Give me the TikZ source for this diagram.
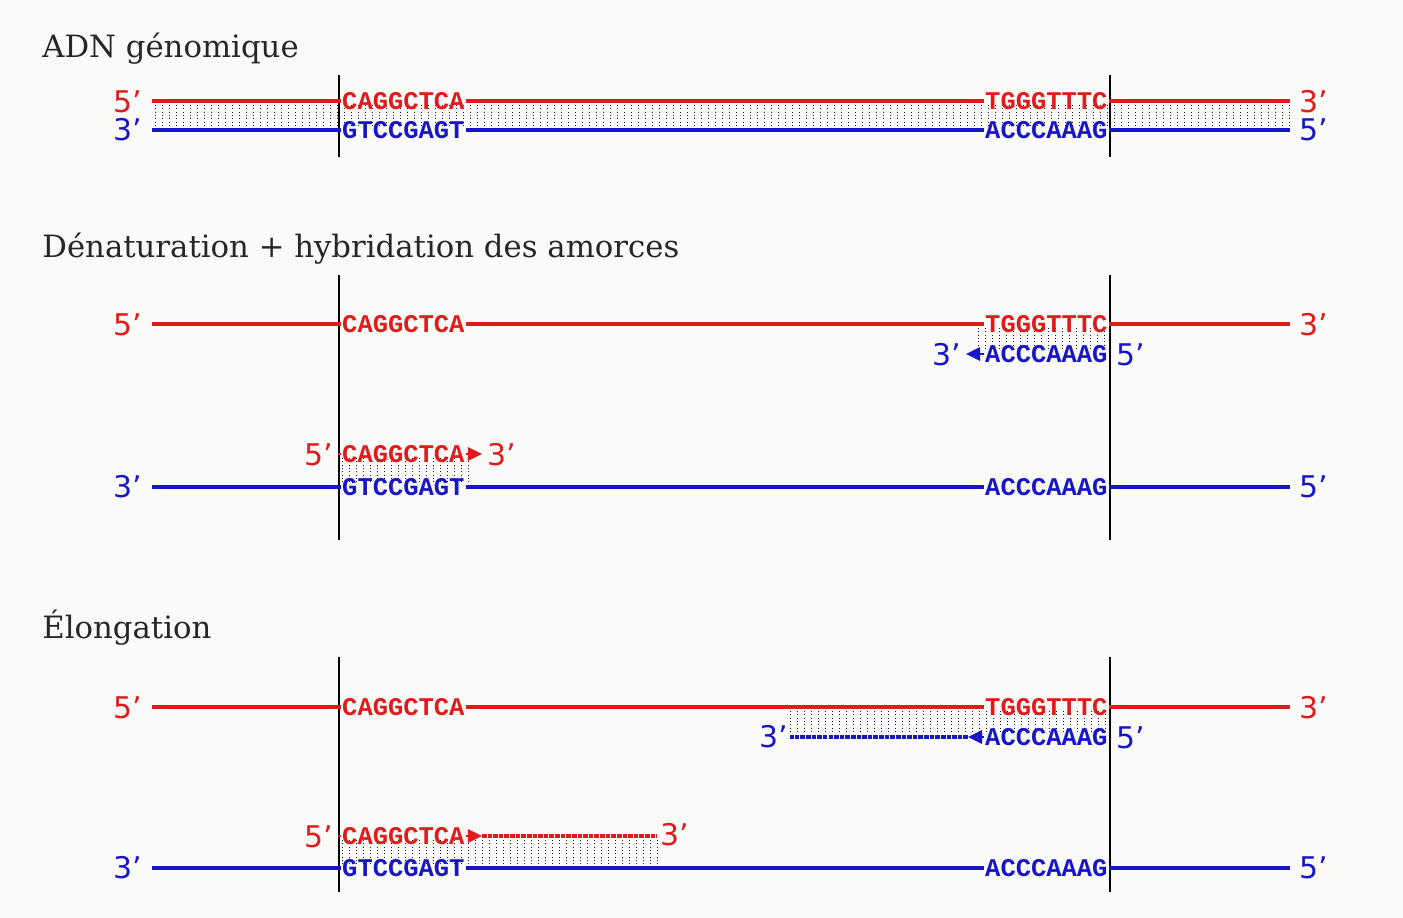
\documentclass[tikz,border=0pt]{standalone}
\usepackage{fontspec}
\usetikzlibrary{arrows.meta}
\newfontfamily\seqfont{Liberation Mono}
\newfontfamily\endfont{DejaVu Sans}
\newfontfamily\headfont{DejaVu Serif}
\definecolor{strandred}{RGB}{225,27,27}
\definecolor{strandblue}{RGB}{22,22,200}
\definecolor{paper}{RGB}{250,250,248}
\def\hatch(#1:#2)(#3:#4){\pgfmathtruncatemacro\hn{(#2-#1)/7}\foreach \i in {0,...,\hn} \draw[hatchline] ({#1+7*\i},#3) -- ({#1+7*\i},#4);}
\tikzset{
  title/.style={anchor=base west, inner sep=0, text=black!85, font=\headfont\fontsize{17.5}{20}\selectfont},
  seqR/.style={anchor=west, inner sep=0.5pt, text=strandred, font=\seqfont\bfseries\fontsize{14.5}{15}\selectfont},
  seqB/.style={seqR, text=strandblue},
  endR/.style={inner sep=0, text=strandred, font=\endfont\fontsize{17}{18}\selectfont},
  endB/.style={endR, text=strandblue},
  strandR/.style={draw=strandred, line width=2.2pt},
  strandB/.style={draw=strandblue, line width=2.2pt},
  guide/.style={draw=black, line width=0.7pt},
  hatchline/.style={draw=black!90, line width=0.5pt, dash pattern=on 0.5pt off 1.4pt},
  arrR/.style={strandR, line width=1.4pt, -{Triangle[length=8pt,width=7.5pt]}},
  arrB/.style={strandB, line width=1.4pt, -{Triangle[length=8pt,width=7.5pt]}},
  extR/.style={strandR, line width=2pt, dash pattern=on 2.6pt off 0.6pt},
  extB/.style={strandB, line width=2pt, dash pattern=on 2.6pt off 0.6pt}
}
\begin{document}
\begin{tikzpicture}[x=0.02cm, y=-0.02cm]
		%%%%% START %%%%%
		\fill[paper] (0,0) rectangle (1403,918);
		\useasboundingbox (0,0) rectangle (1403,918);
		
		% ADN genomique
		\node[title] (t1) at (42,58) {ADN génomique};
		\draw[guide] (339,75) -- (339,157);
		\draw[guide] (1110,75) -- (1110,157);
		\hatch(155:1290)(105:127)
		\node[seqR] (r1a) at (341,101) {CAGGCTCA};
		\node[seqR] (r1b) at (984,101) {TGGGTTTC};
		\node[seqB] (b1a) at (341,130) {GTCCGAGT};
		\node[seqB] (b1b) at (984,130) {ACCCAAAG};
		\coordinate (r1L) at (152,101); \coordinate (r1R) at (1290,101);
		\coordinate (b1L) at (152,130); \coordinate (b1R) at (1290,130);
		\draw[strandR] (r1L) -- (r1a) -- (r1b) -- (r1R);
		\draw[strandB] (b1L) -- (b1a) -- (b1b) -- (b1R);
		\node[endR] (r1e5) at (128,102) {5’};
		\node[endR] (r1e3) at (1314,102) {3’};
		\node[endB] (b1e3) at (128,130) {3’};
		\node[endB] (b1e5) at (1314,130) {5’};
		
		% Denaturation + hybridation
		\node[title] (t2) at (42,258) {Dénaturation + hybridation des amorces};
		\draw[guide] (339,275) -- (339,540);
		\draw[guide] (1110,275) -- (1110,540);
		\hatch(978:1107)(328:351)
		\hatch(342:472)(458:484)
		\node[seqR] (r2a) at (341,324) {CAGGCTCA};
		\node[seqR] (r2b) at (984,324) {TGGGTTTC};
		\coordinate (r2L) at (152,324); \coordinate (r2R) at (1290,324);
		\draw[strandR] (r2L) -- (r2a) -- (r2b) -- (r2R);
		\node[endR] (r2e5) at (128,325) {5’};
		\node[endR] (r2e3) at (1314,325) {3’};
		% amorce bleue
		\node[seqB] (pb2) at (984,354) {ACCCAAAG};
		\coordinate (pb2tip) at (966,354);
		\draw[arrB] (pb2) -- (pb2tip);
		\node[endB] (pb2e3) at (947,355) {3’};
		\node[endB] (pb2e5) at (1131,355) {5’};
		% amorce rouge
		\node[seqR] (pr2) at (341,454) {CAGGCTCA};
		\coordinate (pr2s) at (338,454); \coordinate (pr2tip) at (482,454);
		\draw[strandR, line width=1.4pt] (pr2s) -- (pr2);
		\draw[arrR] (pr2) -- (pr2tip);
		\node[endR] (pr2e5) at (319,455) {5’};
		\node[endR] (pr2e3) at (502,455) {3’};
		\node[seqB] (b2a) at (341,487) {GTCCGAGT};
		\node[seqB] (b2b) at (984,487) {ACCCAAAG};
		\coordinate (b2L) at (152,487); \coordinate (b2R) at (1290,487);
		\draw[strandB] (b2L) -- (b2a) -- (b2b) -- (b2R);
		\node[endB] (b2e3) at (128,487) {3’};
		\node[endB] (b2e5) at (1314,487) {5’};
		
		% Elongation
		\node[title] (t3) at (42,638) {Élongation};
		\draw[guide] (339,657) -- (339,892);
		\draw[guide] (1110,657) -- (1110,892);
		\hatch(790:1107)(711:734)
		\hatch(342:657)(840:865)
		\node[seqR] (r3a) at (341,707) {CAGGCTCA};
		\node[seqR] (r3b) at (984,707) {TGGGTTTC};
		\coordinate (r3L) at (152,707); \coordinate (r3R) at (1290,707);
		\draw[strandR] (r3L) -- (r3a) -- (r3b) -- (r3R);
		\node[endR] (r3e5) at (128,708) {5’};
		\node[endR] (r3e3) at (1314,708) {3’};
		% brin bleu allonge
		\node[seqB] (pb3) at (984,737) {ACCCAAAG};
		\coordinate (pb3tip) at (968,737); \coordinate (pb3end) at (790,737);
		\draw[arrB] (pb3) -- (pb3tip);
		\draw[extB] (pb3tip) -- (pb3end);
		\node[endB] (pb3e3) at (774,737) {3’};
		\node[endB] (pb3e5) at (1131,738) {5’};
		% brin rouge allonge
		\node[seqR] (pr3) at (341,836) {CAGGCTCA};
		\coordinate (pr3s) at (338,836); \coordinate (pr3tip) at (482,836);
		\coordinate (pr3end) at (657,836);
		\draw[strandR, line width=1.4pt] (pr3s) -- (pr3);
		\draw[arrR] (pr3) -- (pr3tip);
		\draw[extR] (pr3tip) -- (pr3end);
		\node[endR] (pr3e5) at (319,837) {5’};
		\node[endR] (pr3e3) at (675,835) {3’};
		\node[seqB] (b3a) at (341,868) {GTCCGAGT};
		\node[seqB] (b3b) at (984,868) {ACCCAAAG};
		\coordinate (b3L) at (152,868); \coordinate (b3R) at (1290,868);
		\draw[strandB, line width=1.8pt] (b3L) -- (b3a) -- (b3b) -- (b3R);
		\node[endB] (b3e3) at (128,868) {3’};
		\node[endB] (b3e5) at (1314,868) {5’};
		%%%%% END %%%%%
\end{tikzpicture}
\end{document}
